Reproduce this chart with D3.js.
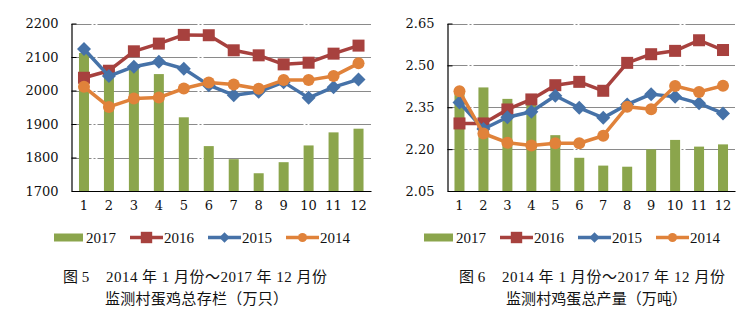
<!DOCTYPE html>
<html><head><meta charset="utf-8">
<script src="https://cdn.jsdelivr.net/npm/d3@7"></script>
<style>
html,body{margin:0;padding:0;background:#fff;}
svg{display:block;}
</style></head>
<body>
<svg id="c" width="753" height="321"></svg>
<script>
const months = ["1","2","3","4","5","6","7","8","9","10","11","12"];
const seriesNames = ["2017","2016","2015","2014"];

// Figure 5: stock (10k birds)
const stock2017 = [2112,2048,2066,2049,1920,1834,1795,1753,1786,1836,1875,1886];
const stock2016 = [2038,2059,2117,2140,2166,2165,2120,2105,2078,2083,2110,2134];
const stock2015 = [2124,2043,2071,2086,2065,2016,1986,1996,2025,1978,2010,2033];
const stock2014 = [2011,1951,1976,1979,2006,2024,2018,2005,2031,2031,2043,2081];
const stockTicks = [1700,1800,1900,2000,2100,2200];

// Figure 6: output (10k tons)
const out2017 = [2.40,2.421,2.380,2.365,2.250,2.169,2.141,2.137,2.199,2.233,2.209,2.217];
const out2016 = [2.292,2.292,2.342,2.378,2.429,2.441,2.409,2.509,2.540,2.552,2.590,2.555];
const out2015 = [2.367,2.272,2.314,2.334,2.391,2.348,2.312,2.360,2.397,2.388,2.364,2.328];
const out2014 = [2.407,2.256,2.223,2.213,2.221,2.221,2.248,2.352,2.343,2.426,2.405,2.427];
const outTicks = [2.05,2.20,2.35,2.50,2.65];

const caption5 = ["图 5", "2014 年 1 月份～2017 年 12 月份", "监测村蛋鸡总存栏（万只）"];
const caption6 = ["图 6", "2014 年 1 月份～2017 年 12 月份", "监测村鸡蛋总产量（万吨）"];

const colors = {"2017":"#8ba54c","2016":"#a7413e","2015":"#4672a8","2014":"#e0823a"};
const serif = "'DejaVu Serif', serif";
const numFont = "'Liberation Serif', 'Noto Sans CJK SC', serif";

const svg = d3.select("#c");

function chart(opt){
  const g = svg.append("g");
  const x = d3.scaleBand().domain(months).range([opt.x0, opt.x1]);
  const y = d3.scaleLinear().domain(opt.domain).range([191, 23.5]);
  // gridlines
  g.append("g").selectAll("line").data(opt.ticks.slice(1)).join("line")
    .attr("x1", opt.x0).attr("x2", opt.x1)
    .attr("y1", d=>Math.round(y(d))+0.5).attr("y2", d=>Math.round(y(d))+0.5)
    .attr("stroke", "#8a8a8a").attr("stroke-width", 1.2)
    .attr("stroke-dasharray", "20,2,2,2,80,0");
  // bars
  const bw = 10;
  g.append("g").selectAll("rect").data(opt.bars).join("rect")
    .attr("x", (d,i)=>x(months[i]) + x.bandwidth()/2 - bw/2)
    .attr("width", bw)
    .attr("y", d=>y(d))
    .attr("height", d=>y(opt.domain[0]) - y(d))
    .attr("fill", colors["2017"]);
  // y axis
  const ya = d3.axisLeft(y).tickValues(opt.ticks).tickSize(-5).tickSizeOuter(0).tickPadding(13).tickFormat(opt.fmt);
  const yg = g.append("g").attr("transform", `translate(${opt.x0},0)`).call(ya);
  yg.select(".domain").attr("stroke", "#000").attr("stroke-width", 1.2);
  yg.selectAll(".tick line").attr("stroke", "#000");
  yg.selectAll("text").attr("font-family", serif).attr("font-size", 13).attr("fill", "#111");
  // x axis
  const xa = d3.axisBottom(x).tickSize(0).tickSizeOuter(0).tickPadding(10);
  const xg = g.append("g").attr("transform", `translate(0,${y(opt.domain[0])})`).call(xa);
  xg.select(".domain").attr("stroke", "#000").attr("stroke-width", 1.2);
  xg.selectAll("text").attr("font-family", serif).attr("font-size", 13).attr("fill", "#111");

  const line = d3.line().x((d,i)=>x(months[i]) + x.bandwidth()/2).y(d=>y(d));
  const lines = [["2016", opt.s2016, "square"],["2015", opt.s2015, "diamond"],["2014", opt.s2014, "circle"]];
  lines.forEach(([name, data, shape])=>{
    const c = colors[name];
    g.append("path").datum(data).attr("d", line).attr("fill","none")
      .attr("stroke", c).attr("stroke-width", 3.5).attr("stroke-linejoin","round");
    const pts = g.append("g").selectAll("g").data(data).join("g")
      .attr("transform", (d,i)=>`translate(${x(months[i]) + x.bandwidth()/2},${y(d)})`);
    drawMarker(pts, shape, c, 1);
  });

  // legend
  const ly = 237.5;
  const L = opt.legend;
  const lg = g.append("g");
  lg.append("rect").attr("x", L[0]).attr("y", ly-4).attr("width", 29).attr("height", 8).attr("fill", colors["2017"]);
  lg.append("text").attr("x", L[0]+32).attr("y", ly+5).text(seriesNames[0]);
  [["2016","square",1],["2015","diamond",2],["2014","circle",3]].forEach(([name, shape, k])=>{
    const lx = L[k];
    lg.append("line").attr("x1", lx).attr("x2", lx+33).attr("y1", ly).attr("y2", ly)
      .attr("stroke", colors[name]).attr("stroke-width", 3.5);
    const m = lg.append("g").attr("transform", `translate(${lx+16.5},${ly})`);
    drawMarker(m, shape, colors[name], shape==="square"?0.95:0.75);
    lg.append("text").attr("x", lx+34).attr("y", ly+5).text(name);
  });
  lg.selectAll("text").attr("font-family", numFont).attr("font-size", 15).attr("fill", "#111");

  // caption
  const cg = g.append("g").attr("font-family", numFont).attr("font-size", 15).attr("fill", "#111");
  cg.append("text").attr("x", opt.cap[0]).attr("y", 282).text(opt.caption[0]);
  cg.append("text").attr("x", opt.cap[1]).attr("y", 282).attr("textLength", opt.cap[3]).text(opt.caption[1]);
  cg.append("text").attr("x", opt.cap[2]).attr("y", 304).attr("font-family", "'Noto Sans CJK SC', sans-serif")
    .attr("font-size", 15).attr("textLength", opt.cap[4]).text(opt.caption[2]);
}

function drawMarker(sel, shape, c, s){
  if(shape==="square"){
    sel.append("rect").attr("x", -6*s).attr("y", -6*s).attr("width", 12*s).attr("height", 12*s).attr("fill", c);
  } else if(shape==="diamond"){
    const r = 7*s;
    sel.append("path").attr("d", `M0,${-r}L${r},0L0,${r}L${-r},0Z`).attr("fill", c);
  } else {
    sel.append("circle").attr("r", 6*s).attr("fill", c);
  }
}

chart({x0:71.5, x1:371, domain:[1700,2200], ticks:stockTicks, fmt:d3.format("d"),
  bars:stock2017, s2016:stock2016, s2015:stock2015, s2014:stock2014,
  legend:[54,130,208,286], caption:caption5, cap:[63,106,105,221,183]});
chart({x0:447.5, x1:735, domain:[2.05,2.65], ticks:outTicks, fmt:d3.format(".2f"),
  bars:out2017, s2016:out2016, s2015:out2015, s2014:out2014,
  legend:[424,500,578,656], caption:caption6, cap:[459,502,506,223,181]});
</script>
</body></html>
